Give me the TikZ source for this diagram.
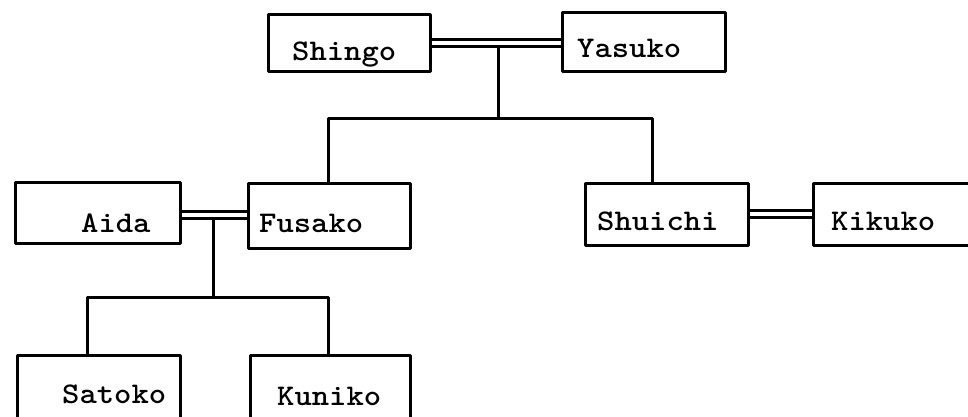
\documentclass[tikz,border=0pt]{standalone}
\usetikzlibrary{calc}
\begin{document}
\begin{tikzpicture}[x=1pt,y=-1pt,
  personbox/.style={draw,line width=3pt,rectangle,inner sep=0pt,line join=round},
  nametext/.style={anchor=base west,inner sep=0pt,xscale=1.1,
    font=\ttfamily\bfseries\fontsize{30}{36}\selectfont},
  marriage/.style={double,double distance=4.5pt,line width=2.6pt},
  descent/.style={line width=3pt,line join=round}]
\useasboundingbox (0,0) rectangle (968,417);
\clip (0,0) rectangle (968,417);
% boxes
\node[personbox,minimum width=162pt,minimum height=57pt] (shingo) at (349,43.5) {};
\node[personbox,minimum width=163pt,minimum height=59pt] (yasuko) at (643.5,42.5) {};
\node[personbox,minimum width=165pt,minimum height=61pt] (aida) at (97.5,212.5) {};
\node[personbox,minimum width=162pt,minimum height=65pt] (fusako) at (329,215.5) {};
\node[personbox,minimum width=163pt,minimum height=62pt] (shuichi) at (666.5,214) {};
\node[personbox,minimum width=170pt,minimum height=62pt] (kikuko) at (898,214) {};
\node[personbox,minimum width=163pt,minimum height=66pt] (satoko) at (98.5,388) {};
\node[personbox,minimum width=160pt,minimum height=66pt] (kuniko) at (330,388) {};
% names
\node[nametext] (shingoT) at (292,61) {Shingo};
\node[nametext] (yasukoT) at (577,58) {Yasuko};
\node[nametext] (aidaT) at (81,232) {Aida};
\node[nametext] (fusakoT) at (259,232) {Fusako};
\node[nametext] (shuichiT) at (597,230) {Shuichi};
\node[nametext] (kikukoT) at (831,230) {Kikuko};
\node[nametext] (satokoT) at (62,403) {Satoko};
\node[nametext] (kunikoT) at (277,405) {Kuniko};
% marriage points and junctions
\coordinate (m1) at (498,43);
\coordinate (j1) at (498,119);
\coordinate (m2) at (213,215);
\coordinate (j2) at (213,297);
\coordinate (m3) at (780,214);
% descent lines (drawn first so the double lines cover them)
\draw[descent] (m1) -- (j1);
\draw[descent] ([xshift=-1pt]fusako.north) |- (j1) -| ([xshift=-14.5pt]shuichi.north);
\draw[descent] (m2) -- (j2);
\draw[descent] ([xshift=-11.5pt]satoko.north) |- (j2) -| ([xshift=-2pt]kuniko.north);
% marriages
\draw[marriage] (shingo.east |- m1) -- (yasuko.west |- m1);
\draw[marriage] (aida.east |- m2) -- (fusako.west |- m2);
\draw[marriage] (shuichi.east |- m3) -- (kikuko.west |- m3);
\end{tikzpicture}
\end{document}
